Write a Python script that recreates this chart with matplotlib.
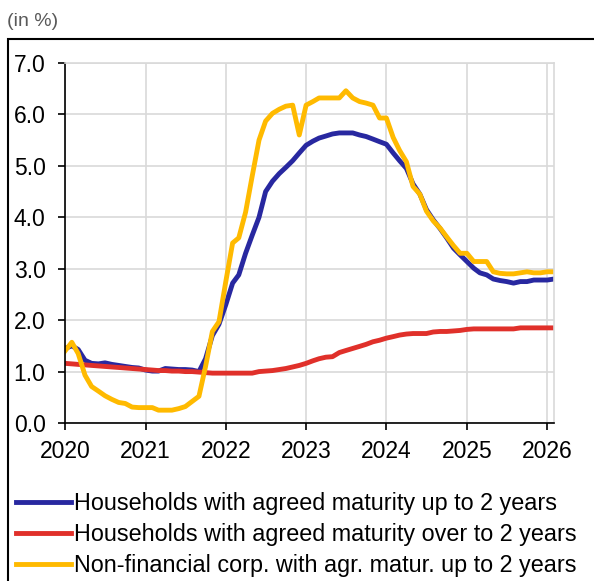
import numpy as np
import pandas as pd
import matplotlib
matplotlib.use("Agg")
import matplotlib.pyplot as plt
import matplotlib.dates as mdates
from matplotlib.patches import Rectangle

plt.rcParams["font.family"] = ["Liberation Sans", "DejaVu Sans"]

# monthly observations, Jan 2020 - Feb 2026
months = pd.date_range("2020-01-01", "2026-02-01", freq="MS")

hh_short = [1.45, 1.50, 1.43, 1.22, 1.16, 1.15, 1.17, 1.14, 1.12, 1.10, 1.08, 1.07,
            1.03, 1.01, 1.01, 1.06, 1.05, 1.04, 1.04, 1.03, 1.00, 1.25, 1.70, 1.92,
            2.30, 2.72, 2.88, 3.30, 3.65, 4.00, 4.50, 4.70, 4.85, 4.97, 5.10, 5.25,
            5.40, 5.48, 5.54, 5.58, 5.62, 5.64, 5.64, 5.64, 5.60, 5.57, 5.52, 5.47,
            5.42, 5.25, 5.10, 4.95, 4.65, 4.45, 4.15, 3.95, 3.78, 3.60, 3.40, 3.27,
            3.14, 3.01, 2.92, 2.88, 2.80, 2.77, 2.75, 2.72, 2.75, 2.75, 2.78, 2.78,
            2.78, 2.80]

hh_long = [1.16, 1.15, 1.14, 1.13, 1.12, 1.11, 1.10, 1.09, 1.08, 1.07, 1.06, 1.05,
           1.04, 1.03, 1.02, 1.02, 1.01, 1.01, 1.00, 1.00, 0.99, 0.98, 0.97, 0.97,
           0.97, 0.97, 0.97, 0.97, 0.97, 1.00, 1.01, 1.02, 1.04, 1.06, 1.09, 1.12,
           1.16, 1.21, 1.25, 1.28, 1.29, 1.37, 1.41, 1.45, 1.49, 1.53, 1.58, 1.61,
           1.65, 1.68, 1.71, 1.73, 1.74, 1.74, 1.74, 1.77, 1.78, 1.78, 1.79, 1.80,
           1.82, 1.83, 1.83, 1.83, 1.83, 1.83, 1.83, 1.83, 1.85, 1.85, 1.85, 1.85,
           1.85, 1.85]

nfc_short = [1.40, 1.57, 1.35, 0.93, 0.71, 0.62, 0.53, 0.46, 0.40, 0.38, 0.31, 0.30,
             0.30, 0.30, 0.25, 0.25, 0.25, 0.28, 0.32, 0.42, 0.52, 1.10, 1.78, 1.97,
             2.75, 3.50, 3.60, 4.10, 4.80, 5.50, 5.87, 6.02, 6.10, 6.16, 6.18, 5.60,
             6.18, 6.25, 6.32, 6.32, 6.32, 6.32, 6.46, 6.32, 6.25, 6.22, 6.18, 5.93,
             5.93, 5.55, 5.30, 5.08, 4.60, 4.45, 4.12, 3.93, 3.79, 3.62, 3.45, 3.30,
             3.30, 3.14, 3.14, 3.14, 2.94, 2.91, 2.90, 2.90, 2.92, 2.94, 2.92, 2.92,
             2.94, 2.94]

labels = ["Households with agreed maturity up to 2 years",
          "Households with agreed maturity over to 2 years",
          "Non-financial corp. with agr. matur. up to 2 years"]
colors = ["#2828A0", "#E0302A", "#FFBA00"]

fig = plt.figure(figsize=(5.94, 5.81), dpi=100)
ax = fig.add_axes([0.1094, 0.2719, 0.8233, 0.6197])

for vals, lab, col in zip([hh_short, hh_long, nfc_short], labels, colors):
    ax.plot(months, vals, color=col, lw=3.5, label=lab)

ax.set_ylim(0, 7)
ax.set_yticks(np.arange(0, 7.1, 1))
ax.yaxis.set_major_formatter(matplotlib.ticker.FormatStrFormatter("%.1f"))
ax.set_xlim(months[0], months[-1])
ax.xaxis.set_major_locator(mdates.YearLocator())
ax.xaxis.set_major_formatter(mdates.DateFormatter("%Y"))

ax.grid(True, color="#D9D9D9", lw=1.2)
ax.set_axisbelow(True)
for s in ["top", "right"]:
    ax.spines[s].set_color("#D9D9D9")
    ax.spines[s].set_linewidth(1.2)
for s in ["left", "bottom"]:
    ax.spines[s].set_color("black")
    ax.spines[s].set_linewidth(1.2)
ax.tick_params(axis="both", labelsize=16.5, length=5, width=1.2, direction="out", color="black")
ax.tick_params(axis="x", pad=7)
ax.tick_params(axis="y", pad=9)

fig.text(0.012, 0.963, "(in %)", fontsize=14, color="#595959", va="center", ha="left")

# outer frame
fig.patches.append(Rectangle((0.0135, -0.05), 1.2, 0.983, transform=fig.transFigure,
                             fill=False, edgecolor="black", lw=1.5, clip_on=False))

fig.legend(loc="upper left", bbox_to_anchor=(0.027, 0.153), frameon=False,
           fontsize=16.8, handlelength=2.35, handletextpad=0.13, labelspacing=0.35,
           borderaxespad=0, borderpad=0)

fig.savefig("out.png", dpi=100)
